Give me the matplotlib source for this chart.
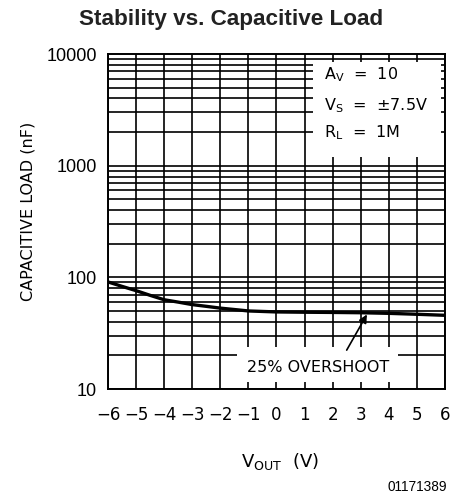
import numpy as np
import matplotlib
matplotlib.use("Agg")
import matplotlib.pyplot as plt
from matplotlib.patches import Rectangle

# curve (VOUT in V, capacitive load in nF)
vout = [-6, -5.5, -5, -4.5, -4, -3.5, -3, -2.5, -2, -1.5, -1, 0, 1, 2, 3, 4, 5, 6]
cap_load = [91, 83, 76, 69, 63, 60, 57, 55, 53, 51.5, 50, 49, 48.7, 48.5, 48.2, 47.6, 46.7, 45.7]

x_ticks = list(range(-6, 7))
y_ticks = [10, 100, 1000, 10000]
y_ticklabels = ["10", "100", "1000", "10000"]

plt.rcParams["font.family"] = "DejaVu Sans"

fig = plt.figure(figsize=(4.53, 4.97), dpi=100)
ax = fig.add_axes([0.2384, 0.2173, 0.7439, 0.674])
ax.set_yscale("log")
ax.set_xlim(-6, 6)
ax.set_ylim(10, 10000)

# grid: every integer volt, every log minor step
for xv in x_ticks:
    ax.axvline(xv, color="black", lw=1.2, zorder=1)
for dec in [10, 100, 1000]:
    for m in range(1, 10):
        ax.axhline(dec * m, color="black", lw=1.2, zorder=1)

ax.plot(vout, cap_load, color="black", lw=2.4, solid_capstyle="butt", zorder=4)

for s in ax.spines.values():
    s.set_linewidth(1.4)
    s.set_zorder(5)

ax.set_xticks(x_ticks)
ax.set_xticklabels([str(v).replace("-", "\u2212") for v in x_ticks], fontsize=12)
ax.set_yticks(y_ticks)
ax.set_yticklabels(y_ticklabels, fontsize=13, family="Liberation Sans")
ax.yaxis.set_minor_locator(matplotlib.ticker.NullLocator())
ax.tick_params(axis="y", length=0, pad=8)
ax.tick_params(axis="x", length=0, pad=12)

# white inset with conditions
ax.add_patch(Rectangle((0.608, 0.693), 0.380, 0.283, transform=ax.transAxes,
                       facecolor="white", edgecolor="none", zorder=3))
tx = 0.642
ax.text(tx, 0.937, r"A$_\mathregular{V}$  =  10", transform=ax.transAxes,
        fontsize=11.5, va="center", zorder=6)
ax.text(tx, 0.845, r"V$_\mathregular{S}$  =  $\pm$7.5V", transform=ax.transAxes,
        fontsize=11.5, va="center", zorder=6)
ax.text(tx, 0.764, r"R$_\mathregular{L}$  =  1M", transform=ax.transAxes,
        fontsize=11.5, va="center", zorder=6)

# overshoot label with arrow
ax.add_patch(Rectangle((0.383, 0.021), 0.478, 0.105, transform=ax.transAxes,
                       facecolor="white", edgecolor="none", zorder=3))
ax.text(0.623, 0.063, "25% OVERSHOOT", transform=ax.transAxes,
        fontsize=11.5, ha="center", va="center", zorder=6)
ax.annotate("", xy=(3.22, 46.5), xytext=(2.5, 22.3),
            arrowprops=dict(arrowstyle="-|>", color="black", lw=1.2,
                            mutation_scale=12, shrinkA=0, shrinkB=0), zorder=6)

ax.set_ylabel("CAPACITIVE LOAD (nF)", fontsize=11.5)
ax.yaxis.set_label_coords(-0.215, 0.53)
ax.set_xlabel(r"V$_\mathregular{OUT}$  (V)", fontsize=13)
ax.xaxis.set_label_coords(0.51, -0.185)

fig.text(0.509, 0.96, "Stability vs. Capacitive Load", ha="center", va="center",
         fontsize=16.2, fontweight="bold", family="Liberation Sans", color="#222222")
fig.text(0.987, 0.02, "01171389", ha="right", va="center", fontsize=9.8,
         family="Liberation Sans")

fig.savefig("out.png", dpi=100)
